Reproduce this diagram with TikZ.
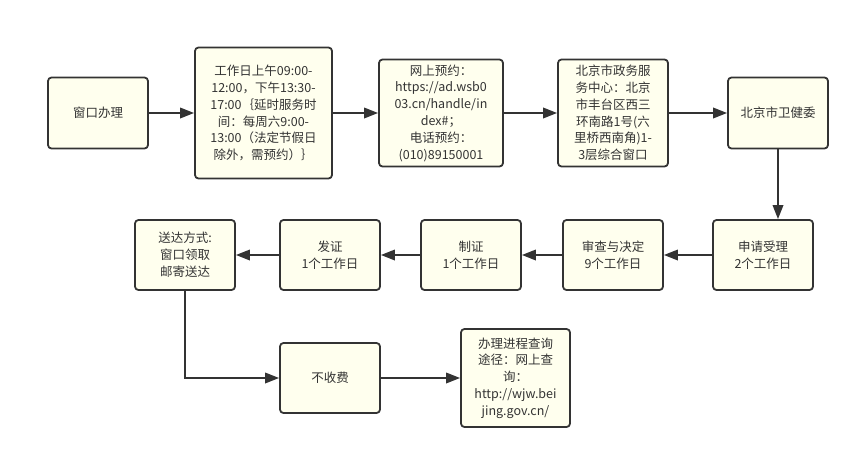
\documentclass[tikz,border=0pt]{standalone}
\usepackage{fontspec}
\setmainfont{Noto Sans CJK SC}
\usetikzlibrary{arrows.meta}
\definecolor{boxfill}{RGB}{255,255,238}
\definecolor{ink}{RGB}{51,51,51}
\tikzset{
  flowbox/.style={draw=ink, fill=boxfill, line width=1.8pt, rounded corners=3.5pt,
    align=center, text=ink, inner sep=2pt,
    font=\fontsize{12.5}{16.8}\selectfont},
  flowarrow/.style={draw=ink, line width=1.8pt,
    -{Triangle[length=14pt,width=10.5pt]}}
}
\begin{document}
\begin{tikzpicture}[x=1pt,y=-1pt]
\useasboundingbox (0,0) rectangle (860,458);
\node[flowbox, minimum width=100pt, minimum height=71pt] (b1) at (98,113) {窗口办理};
\node[flowbox, minimum width=137pt, minimum height=131pt] (b2) at (263.5,113) {工作日上午09:00-\\12:00，下午13:30-\\17:00｛延时服务时\\间：每周六9:00-\\13:00（法定节假日\\除外，需预约）｝};
\node[flowbox, minimum width=124pt, minimum height=107pt] (b3) at (441,113) {网上预约：\\https://ad.wsb0\\03.cn/handle/in\\dex\#；\\电话预约：\\(010)89150001};
\node[flowbox, minimum width=110pt, minimum height=107pt] (b4) at (613,113) {北京市政务服\\务中心：北京\\市丰台区西三\\环南路1号(六\\里桥西南角)1-\\3层综合窗口};
\node[flowbox, minimum width=100pt, minimum height=71pt] (b5) at (778,113) {北京市卫健委};
\node[flowbox, minimum width=100pt, minimum height=70pt] (b6) at (763,255) {申请受理\\2个工作日};
\node[flowbox, minimum width=100pt, minimum height=70pt] (b7) at (613,255) {审查与决定\\9个工作日};
\node[flowbox, minimum width=100pt, minimum height=70pt] (b8) at (471,255) {制证\\1个工作日};
\node[flowbox, minimum width=100pt, minimum height=70pt] (b9) at (330,255) {发证\\1个工作日};
\node[flowbox, minimum width=100pt, minimum height=70pt] (b10) at (185,255) {送达方式:\\窗口领取\\邮寄送达};
\node[flowbox, minimum width=100pt, minimum height=70pt] (b11) at (330,378) {不收费};
\node[flowbox, minimum width=109pt, minimum height=98pt] (b12) at (515.5,378) {办理进程查询\\途径：网上查\\询：\\http://wjw.bei\\jing.gov.cn/};
\draw[flowarrow] (b1) -- (b2);
\draw[flowarrow] (b2) -- (b3);
\draw[flowarrow] (b3) -- (b4);
\draw[flowarrow] (b4) -- (b5);
\draw[flowarrow] (b5.south) -- (b5.south |- b6.north);
\draw[flowarrow] (b6) -- (b7);
\draw[flowarrow] (b7) -- (b8);
\draw[flowarrow] (b8) -- (b9);
\draw[flowarrow] (b9) -- (b10);
\draw[flowarrow] (b10.south) |- (b11.west);
\draw[flowarrow] (b11) -- (b12);
\end{tikzpicture}
\end{document}
